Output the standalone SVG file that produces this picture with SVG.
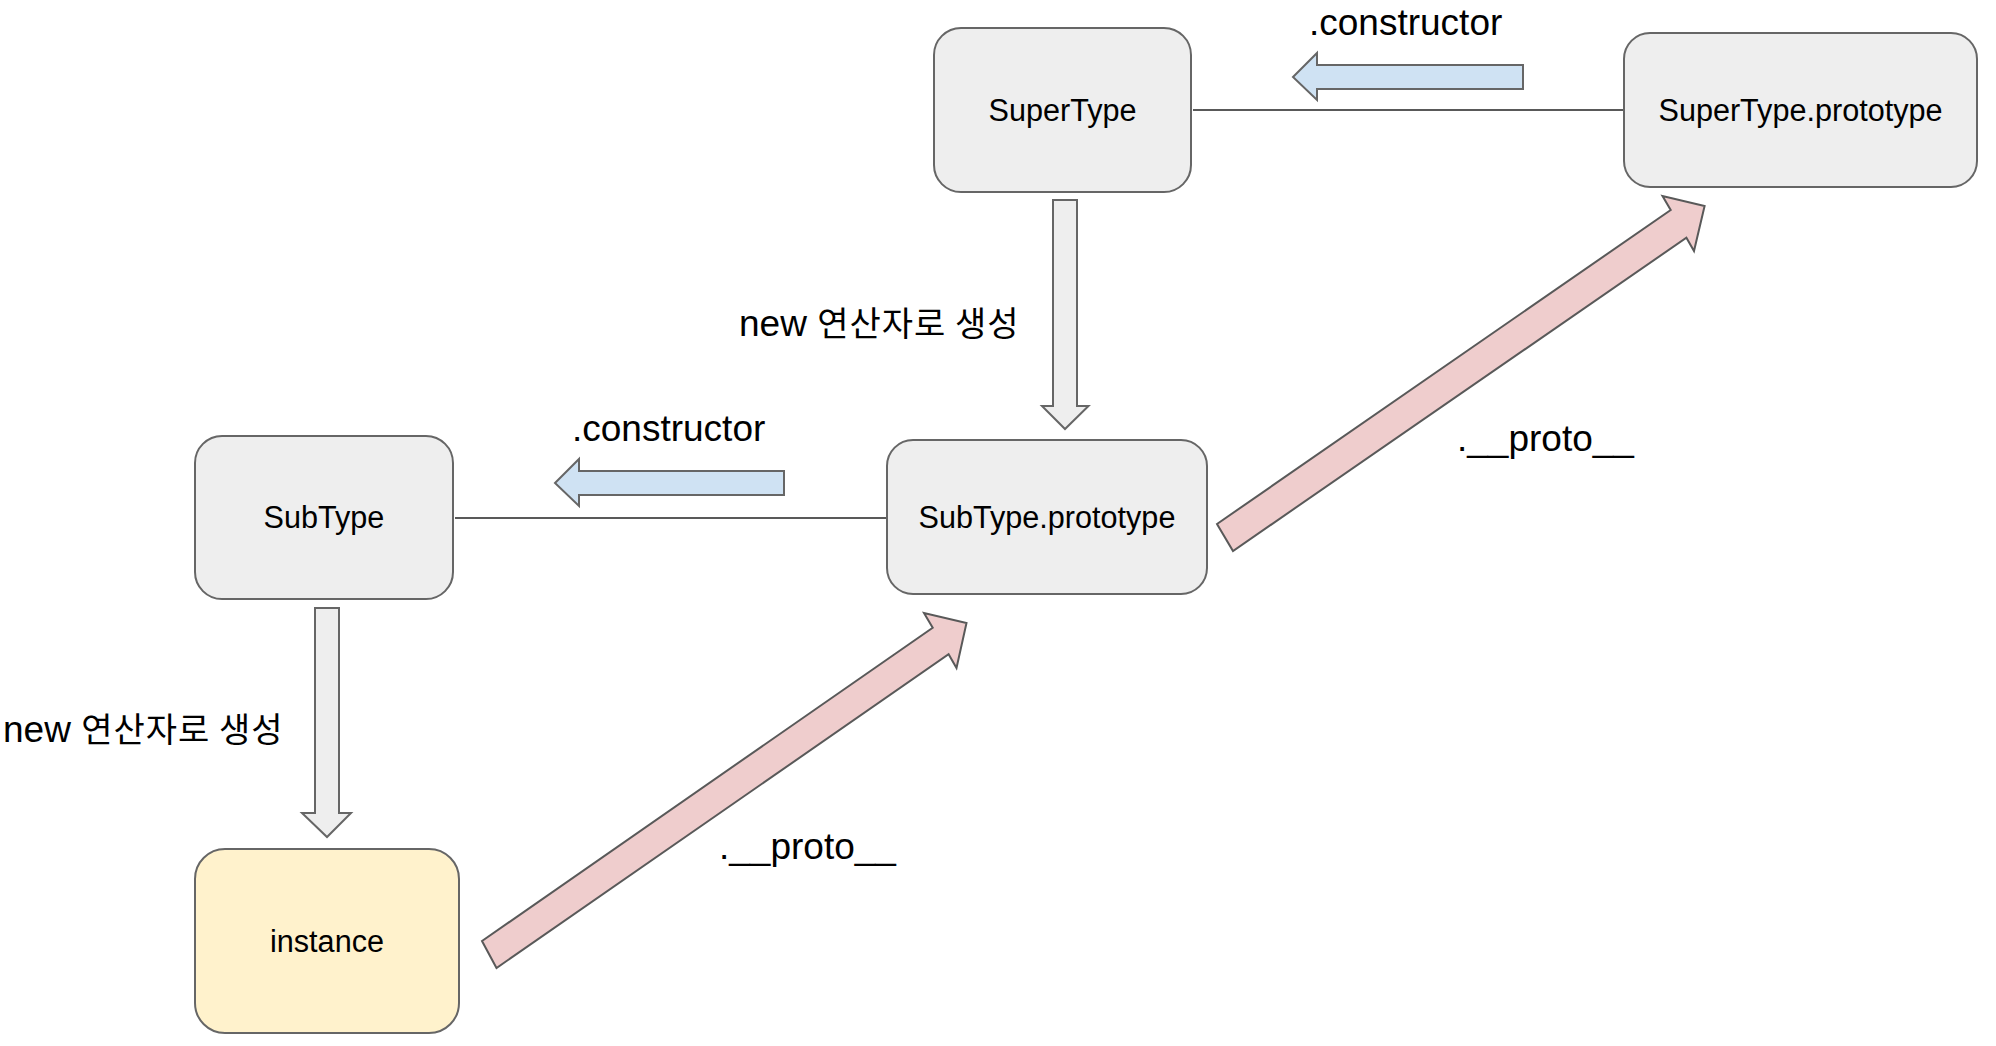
<svg xmlns="http://www.w3.org/2000/svg" width="1996" height="1046" viewBox="0 0 1996 1046">
<style>
.node{fill:#eeeeee;stroke:#666666;stroke-width:2}
.inst{fill:#fff2cc;stroke:#666666;stroke-width:2}
.nt{font-family:"Liberation Sans",Arial,sans-serif;font-size:30.6px;fill:#000;text-anchor:middle}
.lbl{font-family:"Liberation Sans",Arial,"Noto Sans CJK KR",sans-serif;font-size:37px;fill:#000}
.ko{font-family:"Noto Sans CJK KR","Liberation Sans",sans-serif;font-size:34px;letter-spacing:1px}
.line{stroke:#595959;stroke-width:2;fill:none}
.blue{fill:#cfe2f3;stroke:#666666;stroke-width:2;stroke-linejoin:miter}
.gray{fill:#eeeeee;stroke:#666666;stroke-width:2}
.pink{fill:#efcdcd;stroke:#595959;stroke-width:2}
</style>
<rect width="1996" height="1046" fill="#ffffff"/>
<g id="connectors">
<line class="line" x1="1193" y1="110" x2="1623" y2="110"/>
<line class="line" x1="455" y1="518" x2="886" y2="518"/>
<polygon class="blue" points="1523,65 1317,65 1317,53 1293,77 1317,100 1317,89 1523,89"/>
<polygon class="blue" points="784,471 579,471 579,459 555,483 579,506 579,495 784,495"/>
<polygon class="gray" points="1053,200 1077,200 1077,406 1088.5,406 1065,429 1042,406 1053,406"/>
<polygon class="gray" points="315,608 339,608 339,813 351,813 327,837 302,813 315,813"/>
<polygon class="pink" points="482,941 932.7,627.7 924,613 966.5,623 956.5,668 948.6,654.3 496.5,968"/>
<polygon class="pink" points="1217,524 1670.7,210 1662.5,196 1704.6,206 1694,251 1686.4,237.7 1233,551"/>
</g>
<g id="labels">
<text class="lbl" x="1309" y="35">.constructor</text>
<text class="lbl" x="572" y="441">.constructor</text>
<text class="lbl" x="739" y="336">new <tspan class="ko">연산자로 생성</tspan></text>
<text class="lbl" x="3" y="742">new <tspan class="ko">연산자로 생성</tspan></text>
<text class="lbl" x="1457" y="451">.__proto__</text>
<text class="lbl" x="719" y="859">.__proto__</text>
</g>
<g id="node-supertype">
<rect class="node" x="934" y="28" width="257" height="164" rx="27" ry="27"/>
<text class="nt" x="1062.5" y="120.7">SuperType</text>
</g>
<g id="node-supertype-prototype">
<rect class="node" x="1624" y="33" width="353" height="154" rx="26" ry="26"/>
<text class="nt" x="1800.5" y="120.7">SuperType.prototype</text>
</g>
<g id="node-subtype">
<rect class="node" x="195" y="436" width="258" height="163" rx="27" ry="27"/>
<text class="nt" x="324" y="528.2">SubType</text>
</g>
<g id="node-subtype-prototype">
<rect class="node" x="887" y="440" width="320" height="154" rx="26" ry="26"/>
<text class="nt" x="1047" y="527.7">SubType.prototype</text>
</g>
<g id="node-instance">
<rect class="inst" x="195" y="849" width="264" height="184" rx="30" ry="30"/>
<text class="nt" x="327" y="951.7">instance</text>
</g>
</svg>
